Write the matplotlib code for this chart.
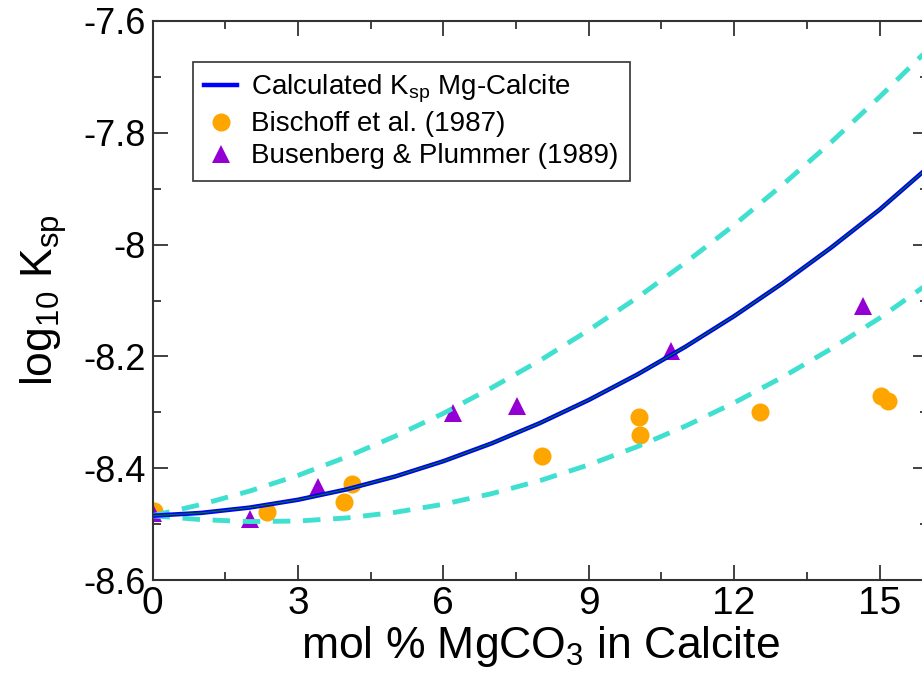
import numpy as np
import matplotlib.pyplot as plt
from matplotlib.ticker import MultipleLocator

plt.rcParams['font.family'] = ['Liberation Sans', 'DejaVu Sans']
plt.rcParams['mathtext.fontset'] = 'custom'
plt.rcParams['mathtext.rm'] = 'Liberation Sans'
plt.rcParams['mathtext.it'] = 'Liberation Sans:italic'

# --------------------------------------------------
# DATA
# --------------------------------------------------

# curves, sampled every 1 mol %
x_curve = [0, 1, 2, 3, 4, 5, 6, 7, 8, 9, 10, 11, 12, 13, 14, 15, 16]
calc_ksp = [-8.485, -8.480, -8.4705, -8.4565, -8.438, -8.415, -8.3875, -8.3555,
            -8.319, -8.278, -8.2325, -8.1825, -8.128, -8.069, -8.0055, -7.9375, -7.862]
upper_ksp = [-8.485, -8.465, -8.441, -8.413, -8.380, -8.343, -8.302, -8.256,
             -8.207, -8.153, -8.095, -8.032, -7.965, -7.893, -7.817, -7.736, -7.651]
lower_ksp = [-8.485, -8.492, -8.4955, -8.4945, -8.489, -8.479, -8.4645, -8.4455,
             -8.422, -8.394, -8.3615, -8.3245, -8.283, -8.237, -8.1865, -8.1315, -8.070]

# Bischoff et al. (1987)
bischoff_x = [0.03, 2.36, 3.95, 4.11, 8.03, 10.03, 10.05, 12.53, 15.04, 15.17]
bischoff_y = [-8.476, -8.479, -8.461, -8.429, -8.379, -8.309, -8.340, -8.300, -8.270, -8.280]

# Busenberg & Plummer (1989)
busenberg_x = [0.0, 2.01, 3.41, 6.2, 7.51, 10.69, 14.65]
busenberg_y = [-8.481, -8.491, -8.434, -8.302, -8.289, -8.191, -8.109]

# --------------------------------------------------
# PLOT
# --------------------------------------------------

fig = plt.figure(figsize=(9.22, 6.76), dpi=100)
ax = fig.add_axes([152.5 / 922, 96 / 676, 775.5 / 922, 559 / 676])

ax.plot(bischoff_x, bischoff_y, 'o', color='#FFA500', ms=13, mew=0,
        label='Bischoff et al. (1987)', zorder=2)
ax.plot(busenberg_x, busenberg_y, '^', color='#9400D3', ms=13, mew=0,
        label='Busenberg & Plummer (1989)', zorder=2)

ax.plot(x_curve, upper_ksp, color='#40E0D0', lw=3.5,
        linestyle=(0, (3.6, 2.6)), zorder=3)
ax.plot(x_curve, lower_ksp, color='#40E0D0', lw=3.5,
        linestyle=(0, (3.6, 2.6)), zorder=3)
ax.plot(x_curve, calc_ksp, color='#0000FF', lw=3.2,
        label=r'Calculated K$_\mathregular{sp}$ Mg-Calcite', zorder=4)
ax.plot(x_curve, calc_ksp, color='#008000', lw=0.8, zorder=5)

ax.set_xlim(0, 16)
ax.set_ylim(-8.6, -7.6)

ax.xaxis.set_major_locator(MultipleLocator(3))
ax.xaxis.set_minor_locator(MultipleLocator(1.5))
ax.yaxis.set_minor_locator(MultipleLocator(0.1))
ax.set_yticks([-8.6, -8.4, -8.2, -8.0, -7.8, -7.6])
ax.set_yticklabels(['-8.6', '-8.4', '-8.2', '-8', '-7.8', '-7.6'])

ax.tick_params(which='both', direction='in', top=True, right=True,
               width=1.3, color='#333333')
ax.tick_params(which='major', length=11)
ax.tick_params(which='minor', length=6)
ax.tick_params(axis='x', labelsize=28, pad=4)
ax.tick_params(axis='y', labelsize=26, pad=5)

for s in ax.spines.values():
    s.set_linewidth(1.5)
    s.set_color('#333333')

ax.set_xlabel(r'mol % MgCO$_\mathregular{3}$ in Calcite', fontsize=32, labelpad=2)
ax.set_ylabel(r'log$_\mathregular{10}$ K$_\mathregular{sp}$', fontsize=32, labelpad=10)

handles, labels = ax.get_legend_handles_labels()
order = [2, 0, 1]
leg = ax.legend([handles[i] for i in order], [labels[i] for i in order],
                loc='upper left', bbox_to_anchor=(0.052, 0.927),
                fontsize=20, frameon=True, fancybox=False, framealpha=1,
                edgecolor='#333333', handlelength=1.2, handletextpad=0.5,
                borderpad=0.4, labelspacing=0.22, borderaxespad=0)
leg.get_frame().set_linewidth(1.2)

fig.savefig('out.png', dpi=100)
